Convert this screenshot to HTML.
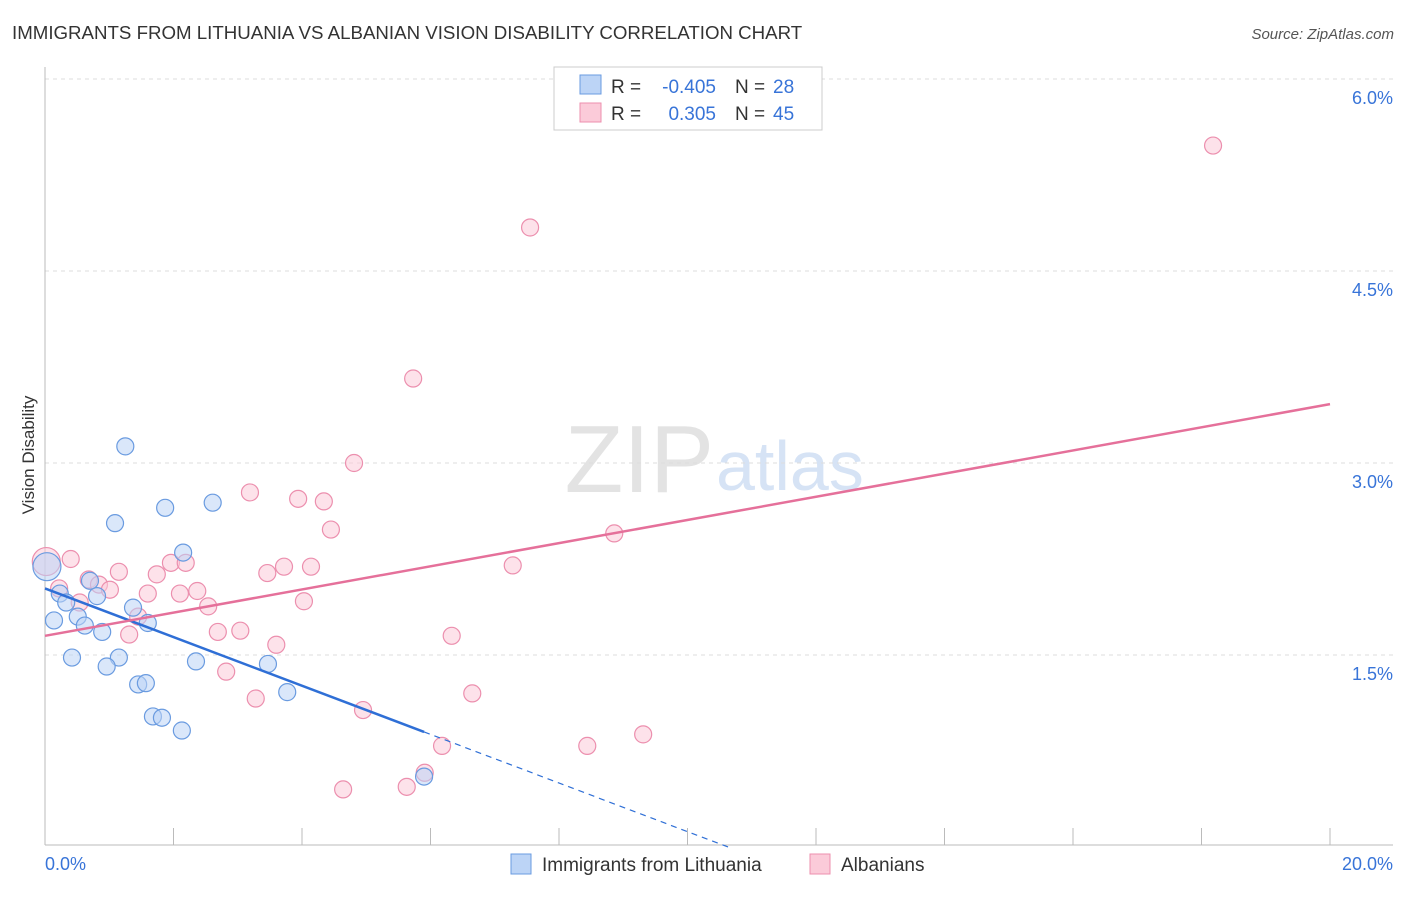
<!DOCTYPE html>
<html><head><meta charset="utf-8"><style>
body{margin:0;background:#fff;font-family:"Liberation Sans",sans-serif;}
svg text{font-family:"Liberation Sans",sans-serif;}
</style></head><body>
<svg id="chart" width="1406" height="892" xmlns="http://www.w3.org/2000/svg">
<text x="12" y="39" font-size="18.7" fill="#333">IMMIGRANTS FROM LITHUANIA VS ALBANIAN VISION DISABILITY CORRELATION CHART</text>
<text x="1394" y="39" font-size="15" fill="#555" font-style="italic" text-anchor="end">Source: ZipAtlas.com</text>
<text x="714" y="492" font-size="96" fill="#e3e3e3" font-family="Liberation Serif" text-anchor="end">ZIP</text>
<text x="716" y="490" font-size="70" fill="#d6e3f5">atlas</text>
<text transform="translate(34,455) rotate(-90)" font-size="17" fill="#333" text-anchor="middle">Vision Disability</text>
<g id="grid"></g><g id="marks"></g>
<g>
<rect x="554" y="67" width="268" height="63" fill="#fff" stroke="#ccc"/>
<rect x="580" y="75" width="21" height="19" fill="#bcd4f6" stroke="#6a9be0"/>
<rect x="580" y="103" width="21" height="19" fill="#fbcbd9" stroke="#ec8fae"/>
<text x="611" y="93" font-size="19" fill="#333">R =</text>
<text x="716" y="93" font-size="19" fill="#3874d8" text-anchor="end">-0.405</text>
<text x="735" y="93" font-size="19" fill="#333">N =</text>
<text x="773" y="93" font-size="19" fill="#3874d8">28</text>
<text x="611" y="120" font-size="19" fill="#333">R =</text>
<text x="716" y="120" font-size="19" fill="#3874d8" text-anchor="end">0.305</text>
<text x="735" y="120" font-size="19" fill="#333">N =</text>
<text x="773" y="120" font-size="19" fill="#3874d8">45</text>
</g>
<g>
<rect x="511" y="854" width="20" height="20" fill="#bcd4f6" stroke="#6a9be0"/>
<text x="542" y="871" font-size="19" fill="#333">Immigrants from Lithuania</text>
<rect x="810" y="854" width="20" height="20" fill="#fbcbd9" stroke="#ec8fae"/>
<text x="841" y="871" font-size="19" fill="#333">Albanians</text>
</g>
</svg>
<script>
const blueX=[1.25,1.09,1.87,2.61,2.15,0.03,0.70,0.23,0.81,0.33,0.51,0.14,1.37,1.60,0.62,0.89,0.42,1.15,0.96,2.35,3.47,1.45,1.57,3.77,1.68,1.82,2.13,5.90];
const blueY=[3.13,2.53,2.65,2.69,2.30,2.19,2.08,1.98,1.96,1.91,1.80,1.77,1.87,1.75,1.73,1.68,1.48,1.48,1.41,1.45,1.43,1.27,1.28,1.21,1.02,1.01,0.91,0.55];
const pinkX=[18.18,7.55,5.73,4.81,3.19,3.94,4.34,4.45,8.86,0.02,0.40,7.28,1.15,1.96,2.19,1.74,3.72,4.14,3.46,0.68,0.22,0.84,1.01,1.60,2.10,2.37,0.54,4.03,2.54,1.45,2.69,3.04,1.31,6.33,3.60,2.82,3.28,6.65,4.95,6.18,8.44,9.31,5.91,4.64,5.63];
const pinkY=[5.48,4.84,3.66,3.00,2.77,2.72,2.70,2.48,2.45,2.23,2.25,2.20,2.15,2.22,2.22,2.13,2.19,2.19,2.14,2.09,2.02,2.05,2.01,1.98,1.98,2.00,1.91,1.92,1.88,1.80,1.68,1.69,1.66,1.65,1.58,1.37,1.16,1.20,1.07,0.79,0.79,0.88,0.58,0.45,0.47];
const blueTrend=[2.02,-0.19];
const pinkTrend=[1.65,0.0905];
const yTicks=[1.5,3.0,4.5,6.0];
const xTickLabels=["0.0%","20.0%"];
const NS="http://www.w3.org/2000/svg";
const X=v=>45+v/20*1285, Y=v=>847-v*128;
const grid=document.getElementById('grid'), marks=document.getElementById('marks');
function mk(tag,attrs,parent){const e=document.createElementNS(NS,tag);for(const k in attrs)e.setAttribute(k,attrs[k]);parent.appendChild(e);return e;}
yTicks.forEach(t=>{
 const l=mk('line',{x1:45,x2:1393,y1:Y(t),y2:Y(t),stroke:'#ddd','stroke-dasharray':'4,4'},grid);
 
 
 const tx=mk('text',{x:1393,y:Y(t)+25,'font-size':18,fill:'#3874d8','text-anchor':'end'},grid);
 tx.textContent=t.toFixed(1)+'%';
 
 
});
const ax=mk('line',{x1:45,x2:45,y1:67,y2:845,stroke:'#bbb'},grid);


const bx=mk('line',{x1:45,x2:1393,y1:845,y2:845,stroke:'#bbb'},grid);


for(let k=0;k<=10;k++){
 const t=mk('line',{x1:X(k*2),x2:X(k*2),y1:828,y2:845,stroke:'#bbb'},grid);
 
 
}
const xl0=mk('text',{x:45,y:870,'font-size':18,fill:'#3874d8'},grid);xl0.textContent=xTickLabels[0];


const xl1=mk('text',{x:1393,y:870,'font-size':18,fill:'#3874d8','text-anchor':'end'},grid);xl1.textContent=xTickLabels[1];


function dots(xs,ys,fill,stroke,name){xs.forEach((x,i)=>{
 const r=(x<0.05)?14:8.5;
 const c=mk('circle',{cx:X(x),cy:Y(ys[i]),r:r,fill:fill,'fill-opacity':0.55,stroke:stroke,'stroke-width':1.2},marks);
 
 
});}
dots(pinkX,pinkY,'#fbcbd9','#ec8fae','albanians-point');
dots(blueX,blueY,'#bcd4f6','#6a9be0','lithuania-point');
const bmax=Math.max(...blueX), bzero=-blueTrend[0]/blueTrend[1];
const tb=mk('line',{x1:X(0),y1:Y(blueTrend[0]),x2:X(bmax),y2:Y(blueTrend[0]+blueTrend[1]*bmax),stroke:'#2f6fd6','stroke-width':2.5},marks);


const td=mk('line',{x1:X(bmax),y1:Y(blueTrend[0]+blueTrend[1]*bmax),x2:X(bzero),y2:Y(0),stroke:'#2f6fd6','stroke-width':1.2,'stroke-dasharray':'6,5'},marks);


const tp=mk('line',{x1:X(0),y1:Y(pinkTrend[0]),x2:X(20),y2:Y(pinkTrend[0]+pinkTrend[1]*20),stroke:'#e5709a','stroke-width':2.5},marks);


</script>
</body></html>
